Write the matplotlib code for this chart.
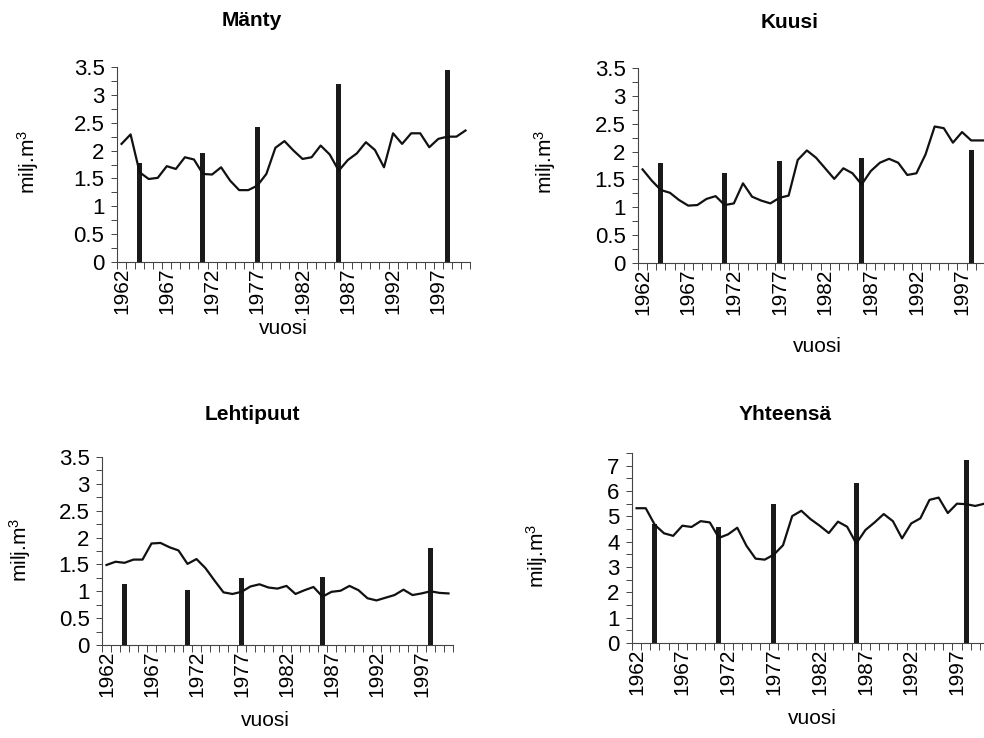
import numpy as np
import matplotlib.pyplot as plt
from matplotlib.ticker import MultipleLocator, FixedLocator

plt.rcParams['font.family'] = ['Liberation Sans', 'DejaVu Sans']
plt.rcParams['mathtext.fontset'] = 'custom'
plt.rcParams['mathtext.rm'] = 'Liberation Sans'
plt.rcParams['mathtext.it'] = 'Liberation Sans'

years = list(range(1962, 2001))
inventory_years = [1964, 1971, 1977, 1986, 1998]
tick_years = [1962, 1967, 1972, 1977, 1982, 1987, 1992, 1997]

# annual values (line)
manty = [2.12, 2.29, 1.61, 1.49, 1.51, 1.72, 1.67, 1.88, 1.84, 1.58,
         1.57, 1.70, 1.46, 1.29, 1.29, 1.37, 1.58, 2.05, 2.17, 2.00,
         1.85, 1.88, 2.09, 1.93, 1.64, 1.83, 1.95, 2.15, 2.01, 1.70,
         2.31, 2.12, 2.31, 2.31, 2.06, 2.21, 2.25, 2.25, 2.36]
kuusi = [1.68, 1.48, 1.31, 1.26, 1.13, 1.03, 1.04, 1.15, 1.20, 1.04,
         1.07, 1.43, 1.19, 1.12, 1.07, 1.17, 1.21, 1.85, 2.02, 1.89,
         1.70, 1.51, 1.70, 1.61, 1.41, 1.65, 1.80, 1.87, 1.80, 1.58,
         1.61, 1.95, 2.45, 2.42, 2.16, 2.35, 2.20, 2.20, 2.20]
lehtipuut = [1.49, 1.55, 1.53, 1.59, 1.59, 1.89, 1.90, 1.82, 1.76, 1.51,
             1.60, 1.43, 1.20, 0.98, 0.95, 0.99, 1.09, 1.13, 1.07, 1.05,
             1.10, 0.95, 1.02, 1.08, 0.90, 0.99, 1.01, 1.10, 1.02, 0.87,
             0.83, 0.88, 0.93, 1.03, 0.93, 0.96, 1.00, 0.97, 0.96]
yhteensa = [5.32, 5.32, 4.66, 4.33, 4.23, 4.63, 4.58, 4.81, 4.76, 4.15,
            4.29, 4.55, 3.84, 3.33, 3.29, 3.49, 3.86, 5.01, 5.22, 4.89,
            4.63, 4.34, 4.79, 4.59, 3.93, 4.46, 4.76, 5.09, 4.81, 4.13,
            4.72, 4.92, 5.65, 5.74, 5.13, 5.50, 5.48, 5.41, 5.50]

# inventory values (bars)
manty_inv = [1.78, 1.96, 2.43, 3.20, 3.45]
kuusi_inv = [1.80, 1.61, 1.83, 1.88, 2.02]
lehti_inv = [1.13, 1.03, 1.25, 1.26, 1.80]
yht_inv = [4.68, 4.58, 5.48, 6.30, 7.22]

W, H = 984, 738
fig = plt.figure(figsize=(W / 100, H / 100), dpi=100)

def px_axes(left, right, bottom, top):
    return fig.add_axes([left / W, (H - bottom) / H, (right - left) / W, (bottom - top) / H])

def panel(ax, line, inv, ymax, ystep, yminor):
    x = np.arange(len(years))
    bx = [years.index(y) for y in inventory_years]
    ax.bar(bx, inv, width=0.55, color='#1a1a1a', zorder=2)
    ax.plot(x, line, color='#111111', lw=1.6, zorder=3)
    ax.set_xlim(-0.5, len(years) - 0.5)
    ax.set_ylim(0, ymax)
    ax.yaxis.set_major_locator(MultipleLocator(ystep))
    ax.yaxis.set_minor_locator(MultipleLocator(yminor))
    ax.set_yticklabels([('%g' % v) for v in ax.get_yticks()])
    ax.xaxis.set_major_locator(FixedLocator([years.index(y) for y in tick_years]))
    ax.set_xticklabels([str(y) for y in tick_years], rotation=90)
    ax.xaxis.set_minor_locator(FixedLocator(np.arange(-0.5, len(years), 1.0)))
    ax.tick_params(axis='x', which='major', length=0, pad=4, labelsize=15)
    ax.tick_params(axis='x', which='minor', length=5, width=0.7, color='#444444')
    ax.tick_params(axis='y', which='both', length=4, width=0.7, color='#444444', labelsize=16, pad=5)
    for s in ['top', 'right']:
        ax.spines[s].set_visible(False)
    for s in ['left', 'bottom']:
        ax.spines[s].set_linewidth(0.8)
        ax.spines[s].set_color('#444444')

ax1 = px_axes(117, 470, 262, 67)
panel(ax1, manty, manty_inv, 3.5, 0.5, 0.25)
ax2 = px_axes(638, 994, 263, 68)
panel(ax2, kuusi, kuusi_inv, 3.5, 0.5, 0.25)
ax3 = px_axes(102, 453, 645, 457)
panel(ax3, lehtipuut, lehti_inv, 3.5, 0.5, 0.25)
ax4 = px_axes(632, 989, 643, 453)
panel(ax4, yhteensa, yht_inv, 7.5, 1, 0.5)
ax4.set_yticks(range(0, 8))
ax4.set_yticklabels([str(v) for v in range(0, 8)])

def ftext(x, y, s, **kw):
    fig.text(x / W, 1 - y / H, s, ha='center', va='center', **kw)

ftext(252, 20, 'Mänty', fontsize=15, fontweight='bold')
ftext(790, 22, 'Kuusi', fontsize=15, fontweight='bold')
ftext(252, 415, 'Lehtipuut', fontsize=15, fontweight='bold')
ftext(785, 415, 'Yhteensä', fontsize=15, fontweight='bold')

for x, y in [(28, 162), (545, 162), (20, 550), (537, 556)]:
    ftext(x, y, 'milj.m$^3$', fontsize=15, rotation=90)

for x, y in [(283, 329), (817, 347), (265, 720), (812, 718)]:
    ftext(x, y, 'vuosi', fontsize=15)

fig.savefig('out.png', dpi=100)
